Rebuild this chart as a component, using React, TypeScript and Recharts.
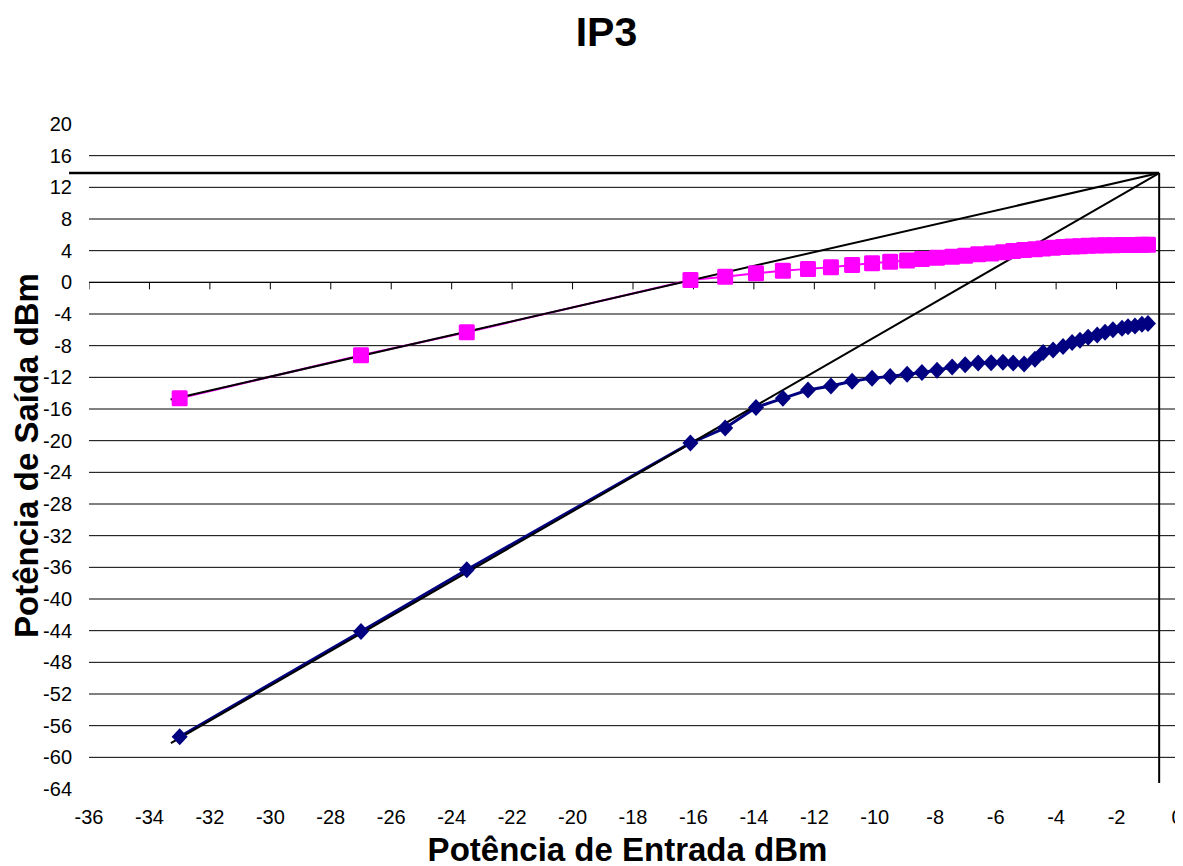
import React from 'react';
import {
  ComposedChart,
  Line,
  Scatter,
  XAxis,
  YAxis,
  CartesianGrid,
  ReferenceLine,
} from 'recharts';

// input power (dBm), shared by both measured series
const inputPower = [
  -33, -27, -23.5, -16.1, -14.95, -13.93, -13.04, -12.21, -11.45, -10.75,
  -10.09, -9.49, -8.93, -8.44, -7.94, -7.44, -7.01, -6.58, -6.15, -5.76,
  -5.42, -5.06, -4.7, -4.43, -4.1, -3.77, -3.47, -3.21, -2.94, -2.64,
  -2.38, -2.12, -1.82, -1.62, -1.39, -1.16, -0.96,
];

// fundamental output (dBm)
const fundamental = [
  -14.65, -9.2, -6.3, 0.3, 0.7, 1.15, 1.45, 1.7, 1.9, 2.2,
  2.4, 2.6, 2.75, 2.95, 3.1, 3.22, 3.37, 3.55, 3.65, 3.8,
  3.95, 4.08, 4.18, 4.27, 4.37, 4.45, 4.52, 4.57, 4.61, 4.65,
  4.67, 4.69, 4.71, 4.72, 4.73, 4.74, 4.76,
];

// third order intermodulation output (dBm)
const im3 = [
  -57.4, -44.1, -36.3, -20.3, -18.4, -15.8, -14.65, -13.6, -13.1, -12.5,
  -12.1, -11.9, -11.6, -11.4, -11.1, -10.7, -10.4, -10.2, -10.15, -10.1,
  -10.2, -10.3, -9.7, -8.85, -8.55, -8.1, -7.6, -7.3, -6.95, -6.65,
  -6.3, -6.0, -5.8, -5.6, -5.5, -5.3, -5.2,
];

// extrapolated lines meeting at the intercept point
const fundamentalFitX = [-33.3, -0.59];
const fundamentalFitY = [-14.8, 13.8];
const im3FitX = [-33.29, -0.59];
const im3FitY = [-58.2, 13.8];
const interceptX = -0.59;
const interceptY = 13.8;
const interceptLineStartX = -36.66;
const interceptLineBottomY = -63.25;

const xTicks = [-36, -34, -32, -30, -28, -26, -24, -22, -20, -18, -16, -14, -12, -10, -8, -6, -4, -2, 0];
const yTicks = [20, 16, 12, 8, 4, 0, -4, -8, -12, -16, -20, -24, -28, -32, -36, -40, -44, -48, -52, -56, -60, -64];
const gridValues = [16, 12, 8, 4, 0, -4, -8, -12, -16, -20, -24, -28, -32, -36, -40, -44, -48, -52, -56, -60];

const fundamentalData = inputPower.map((x, i) => ({ x, y: fundamental[i] }));
const im3Data = inputPower.map((x, i) => ({ x, y: im3[i] }));
const fundamentalFit = fundamentalFitX.map((x, i) => ({ x, y: fundamentalFitY[i] }));
const im3Fit = im3FitX.map((x, i) => ({ x, y: im3FitY[i] }));
const xTickMarks = xTicks.map((x) => ({ x, y: 0 }));

const FONT = '"Liberation Sans", Arial, sans-serif';

const Square = (props: any) => {
  const { cx, cy, index } = props;
  if (cx == null || cy == null) return <g key={index} />;
  return <rect key={index} x={cx - 8} y={cy - 8} width={16} height={16} rx={1.5} fill="#FF00FF" />;
};

const Diamond = (props: any) => {
  const { cx, cy, index } = props;
  if (cx == null || cy == null) return <g key={index} />;
  return (
    <polygon
      key={index}
      points={`${cx},${cy - 8.5} ${cx + 8},${cy} ${cx},${cy + 8.5} ${cx - 8},${cy}`}
      fill="#000080"
    />
  );
};

const TickMark = (props: any) => {
  const { cx, cy } = props;
  return <line x1={cx} y1={cy} x2={cx} y2={cy + 7} stroke="#000" strokeWidth={1} />;
};

const tickStyle = { fontSize: 20, fill: '#000', fontFamily: FONT };

export default function App() {
  return (
    <div style={{ position: 'relative', width: 1175, height: 858, fontFamily: FONT }}>
      <div
        style={{
          position: 'absolute', left: 598.5, top: 4, transform: 'translateX(-50%)',
          fontSize: 41, fontWeight: 'bold', lineHeight: 1, whiteSpace: 'nowrap',
        }}
      >
        IP3
      </div>
      <ComposedChart
        width={1175}
        height={858}
        margin={{ top: 116, right: 6, bottom: 37, left: 0 }}
      >
        <CartesianGrid
          horizontal
          vertical={false}
          horizontalValues={gridValues}
          stroke="#000"
          strokeWidth={1}
        />
        <XAxis
          dataKey="x"
          type="number"
          domain={[-36, 0]}
          ticks={xTicks}
          allowDataOverflow
          axisLine={false}
          tickLine={false}
          tickSize={0}
          tickMargin={21}
          height={40}
          tick={tickStyle}
          interval={0}
        />
        <YAxis
          type="number"
          domain={[-64, 20]}
          ticks={yTicks}
          axisLine={false}
          tickLine={false}
          tickSize={0}
          tickMargin={17}
          width={81}
          tick={tickStyle}
          interval={0}
        />
        <YAxis
          yAxisId="r"
          orientation="right"
          mirror
          type="number"
          domain={[-64, 20]}
          ticks={yTicks}
          width={0}
          tick={false}
          tickSize={7}
          axisLine={{ stroke: '#000', strokeWidth: 1.5 }}
          tickLine={{ stroke: '#000', strokeWidth: 1 }}
          interval={0}
        />
        <ReferenceLine y={0} stroke="#000" strokeWidth={1} />
        <Scatter data={xTickMarks} dataKey="y" shape={TickMark} isAnimationActive={false} />
        <Line
          data={fundamentalData}
          dataKey="y"
          type="linear"
          stroke="#FF00FF"
          strokeWidth={2}
          dot={Square}
          activeDot={false}
          isAnimationActive={false}
        />
        <Line
          data={im3Data}
          dataKey="y"
          type="linear"
          stroke="#000080"
          strokeWidth={3}
          dot={Diamond}
          activeDot={false}
          isAnimationActive={false}
        />
        <Line
          data={fundamentalFit}
          dataKey="y"
          type="linear"
          stroke="#000"
          strokeWidth={2}
          dot={false}
          activeDot={false}
          isAnimationActive={false}
        />
        <Line
          data={im3Fit}
          dataKey="y"
          type="linear"
          stroke="#000"
          strokeWidth={2}
          dot={false}
          activeDot={false}
          isAnimationActive={false}
        />
        <ReferenceLine
          segment={[{ x: interceptLineStartX, y: interceptY }, { x: interceptX, y: interceptY }]}
          stroke="#000"
          strokeWidth={2.5}
          ifOverflow="visible"
        />
        <ReferenceLine
          segment={[{ x: interceptX, y: interceptY }, { x: interceptX, y: interceptLineBottomY }]}
          stroke="#000"
          strokeWidth={2}
          ifOverflow="visible"
        />
      </ComposedChart>
      <div
        style={{
          position: 'absolute', left: 619.5, top: 828, transform: 'translateX(-50%)',
          fontSize: 33, fontWeight: 'bold', lineHeight: '28px', whiteSpace: 'nowrap',
        }}
      >
        Potência de Entrada dBm
      </div>
      <div
        style={{
          position: 'absolute', left: 17.6 - 250, top: 447 - 16.5, width: 500, height: 33,
          transform: 'rotate(-90deg)', textAlign: 'center',
          fontSize: 33, fontWeight: 'bold', lineHeight: 1, whiteSpace: 'nowrap',
        }}
      >
        Potência de Saída dBm
      </div>
    </div>
  );
}
